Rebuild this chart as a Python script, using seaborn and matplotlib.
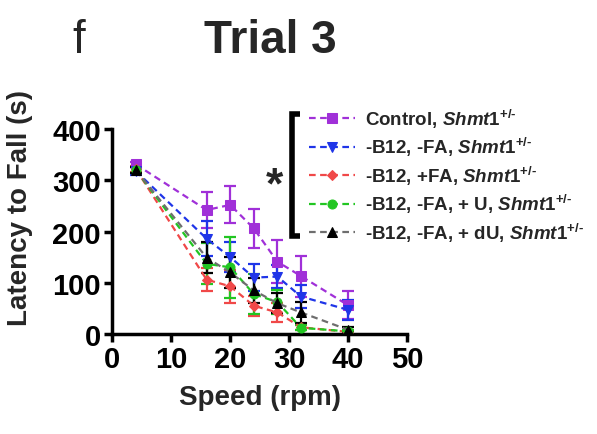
import matplotlib
matplotlib.use("Agg")
import matplotlib.pyplot as plt
import seaborn as sns

# ------------------- Data (mean +/- SEM) ------------------- #
speed = [4, 16, 20, 24, 28, 32, 40]

control = [331, 242, 252, 206, 141, 113, 56]
control_err = [5, 36, 36, 38, 42, 40, 27]

b12_fa = [318, 186, 150, 110, 112, 73, 47]
b12_fa_err = [8, 34, 29, 27, 22, 23, 20]

b12_pfa = [322, 106, 93, 55, 42, 13, 4]
b12_pfa_err = [5, 22, 32, 20, 18, 5, 3]

b12_u = [320, 137, 130, 78, 62, 12, 5]
b12_u_err = [5, 40, 60, 40, 24, 5, 3]

b12_du = [320, 149, 120, 85, 60, 42, 8]
b12_du_err = [5, 30, 30, 25, 20, 20, 5]

sup = r"$\mathit{Shmt1}^{\mathit{+/\text{-}}}$"
labels = [
    "Control, " + sup,
    "-B12, -FA, " + sup,
    "-B12, +FA, " + sup,
    "-B12, -FA, + U, " + sup,
    "-B12, -FA, + dU, " + sup,
]

# ------------------- Style ------------------- #
sns.set_theme(style="ticks")
plt.rcParams["font.family"] = ["Liberation Sans", "DejaVu Sans"]
plt.rcParams["font.weight"] = "bold"
plt.rcParams["mathtext.fontset"] = "custom"
plt.rcParams["mathtext.it"] = "Liberation Sans:bold:italic"
plt.rcParams["mathtext.rm"] = "Liberation Sans:bold"
plt.rcParams["mathtext.bf"] = "Liberation Sans:bold"

series = [
    (control, control_err, "#A030D8", "#A030D8", "s", 6.5),
    (b12_fa, b12_fa_err, "#1F35E8", "#1F35E8", "v", 6.5),
    (b12_pfa, b12_pfa_err, "#F04848", "#F04848", "D", 5),
    (b12_u, b12_u_err, "#22C622", "#22C622", "o", 6.5),
    (b12_du, b12_du_err, "#6E6E6E", "#000000", "^", 6.5),
]

fig = plt.figure(figsize=(5.97, 4.35), dpi=100)
ax = fig.add_axes([0.188, 0.230, 0.494, 0.471])

handles = []
for (vals, errs, lc, mc, mk, ms), lab in zip(series, labels):
    ax.errorbar(speed, vals, yerr=errs, fmt="none", ecolor=mc,
                elinewidth=1.6, capsize=4, capthick=1.6, zorder=2)
    sns.lineplot(x=speed, y=vals, ax=ax, color=lc, linestyle=(0, (3, 2)), linewidth=1.6,
                 marker=mk, markersize=ms, markerfacecolor=mc, markeredgecolor=mc,
                 label=lab, zorder=3, legend=False)
    handles.append(ax.lines[-1])

ax.set_xlim(0, 50)
ax.set_ylim(0, 400)
ax.set_xticks([0, 10, 20, 30, 40, 50])
ax.set_yticks([0, 100, 200, 300, 400])
sns.despine(ax=ax)
for s in ["left", "bottom"]:
    ax.spines[s].set_linewidth(2.5)
    ax.spines[s].set_color("black")
ax.tick_params(axis="both", direction="out", length=6, width=2.5, labelsize=21, pad=2,
               colors="black")
for t in ax.get_xticklabels() + ax.get_yticklabels():
    t.set_fontweight("bold")

ax.set_xlabel("Speed (rpm)", fontsize=20, fontweight="bold", labelpad=8)
ax.set_ylabel("Latency to Fall (s)", fontsize=20, fontweight="bold")
ax.yaxis.set_label_coords(-0.27, 0.62)

fig.text(0.452, 0.905, "Trial 3", fontsize=33, fontweight="bold", ha="center", va="center")
fig.text(0.132, 0.905, "f", fontsize=33, fontweight="normal", ha="center", va="center")

leg = fig.legend(handles=handles, labels=labels, loc="upper left",
                 bbox_to_anchor=(0.505, 0.77), frameon=False, fontsize=13.5,
                 handlelength=2.45, handletextpad=0.55, labelspacing=0.29,
                 borderaxespad=0)
for t in leg.get_texts():
    t.set_fontweight("bold")

# significance bracket
fig.add_artist(plt.Line2D([0.503, 0.489, 0.489, 0.503], [0.735, 0.735, 0.455, 0.455],
                          transform=fig.transFigure, color="black", linewidth=4,
                          solid_capstyle="butt", solid_joinstyle="miter"))
fig.text(0.459, 0.57, "*", fontsize=32, fontweight="bold", ha="center", va="center")

fig.savefig("out.png", dpi=100)
